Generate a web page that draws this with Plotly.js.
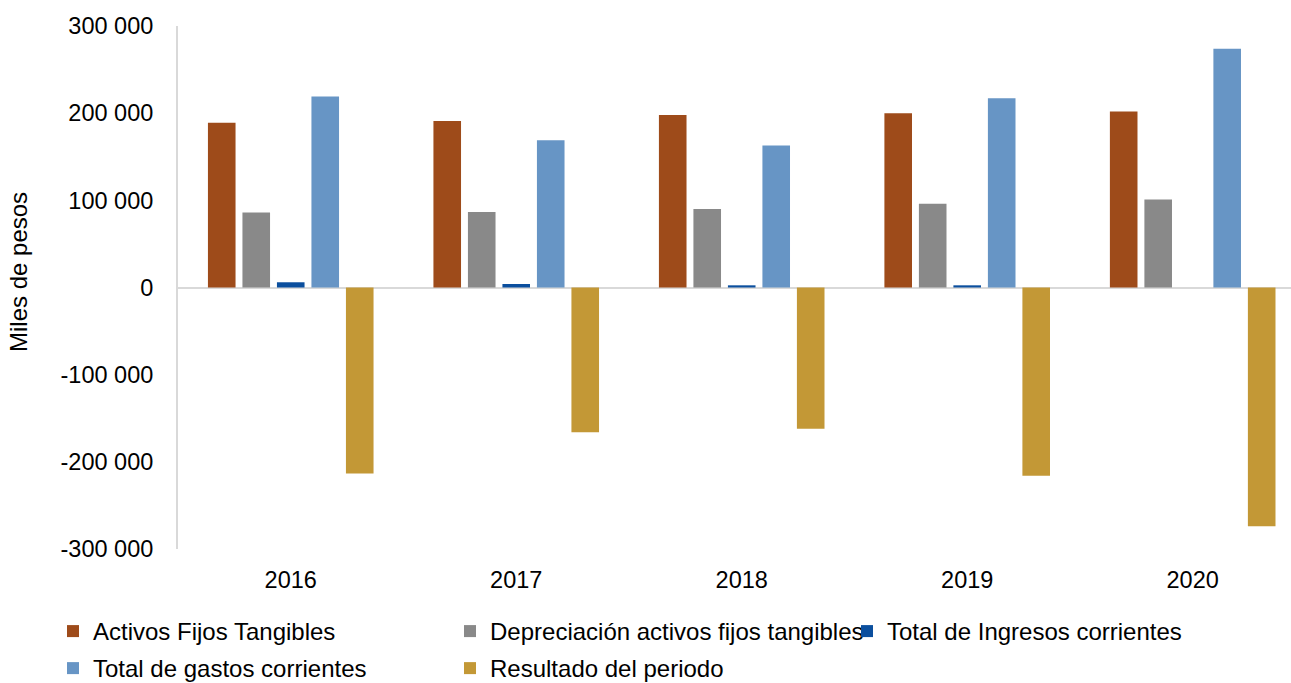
<!DOCTYPE html>
<html>
<head>
<meta charset="utf-8">
<script src="https://cdn.plot.ly/plotly-3.0.1.min.js"></script>
<style>html,body{margin:0;padding:0;background:#fff;overflow:hidden;}#chart{width:1291px;height:683px;}</style>
</head>
<body>
<div id="chart"></div>
<script>
const years = ["2016", "2017", "2018", "2019", "2020"];
const activosFijos = [189000, 191000, 198000, 200000, 202000];
const depreciacion = [86000, 86500, 90000, 96000, 101000];
const ingresos = [6000, 4000, 2500, 2500, 0];
const gastos = [219000, 169000, 163000, 217000, 274000];
const resultado = [-213500, -166000, -162000, -216000, -274000];
const yTickVals = [-300000, -200000, -100000, 0, 100000, 200000, 300000];
const yTickText = ["-300 000", "-200 000", "-100 000", "0", "100 000", "200 000", "300 000"];

const FONT = "Arial, 'Liberation Sans', sans-serif";

const series = [
  {name: "Activos Fijos Tangibles", y: activosFijos, color: "#9E4B1A", legend: "legend"},
  {name: "Depreciación activos fijos tangibles", y: depreciacion, color: "#898989", legend: "legend"},
  {name: "Total de Ingresos corrientes", y: ingresos, color: "#0B4F9E", legend: "legend"},
  {name: "Total de gastos corrientes", y: gastos, color: "#6795C5", legend: "legend2"},
  {name: "Resultado del periodo", y: resultado, color: "#C39836", legend: "legend2"}
];

const traces = series.map(s => ({
  type: "bar",
  name: s.name,
  x: years,
  y: s.y,
  legend: s.legend,
  marker: {color: s.color, line: {width: 0}},
  hoverinfo: "x+y+name"
}));

const legendBase = {
  orientation: "h",
  x: -0.1123,
  xanchor: "left",
  yanchor: "top",
  entrywidth: 352,
  entrywidthmode: "pixels",
  font: {family: FONT, size: 24, color: "#000000"},
  traceorder: "normal",
  bgcolor: "rgba(0,0,0,0)",
  itemclick: false,
  itemdoubleclick: false
};

const layout = {
  width: 1291,
  height: 683,
  margin: {l: 178, r: 0, t: 26, b: 134, pad: 0, autoexpand: false},
  paper_bgcolor: "#ffffff",
  plot_bgcolor: "#ffffff",
  font: {family: FONT, size: 23.5, color: "#000000"},
  barmode: "group",
  bargap: 0.235,
  bargroupgap: 0.2,
  showlegend: true,
  legend: Object.assign({}, legendBase, {y: -0.1147}),
  legend2: Object.assign({}, legendBase, {y: -0.1855}),
  xaxis: {
    type: "category",
    range: [-0.5, 4.436],
    showline: false,
    showgrid: false,
    zeroline: false,
    ticks: "",
    ticklabelstandoff: 14,
    tickfont: {family: FONT, size: 23.5, color: "#000000"},
    fixedrange: true
  },
  yaxis: {
    range: [-300000, 300000],
    tickmode: "array",
    tickvals: yTickVals,
    ticktext: yTickText,
    showgrid: false,
    showline: true,
    linecolor: "#D9D9D9",
    linewidth: 2,
    zeroline: true,
    zerolinecolor: "#D9D9D9",
    zerolinewidth: 2,
    ticks: "",
    ticklabelstandoff: 18,
    tickfont: {family: FONT, size: 23.5, color: "#000000"},
    fixedrange: true
  },
  annotations: [{
    text: "Miles de pesos",
    xref: "paper", yref: "paper",
    x: -0.1438, y: 0.5296,
    xanchor: "center", yanchor: "middle",
    textangle: -90,
    showarrow: false,
    font: {family: FONT, size: 24, color: "#000000"}
  }]
};

Plotly.newPlot("chart", traces, layout, {displayModeBar: false});
</script>
</body>
</html>
